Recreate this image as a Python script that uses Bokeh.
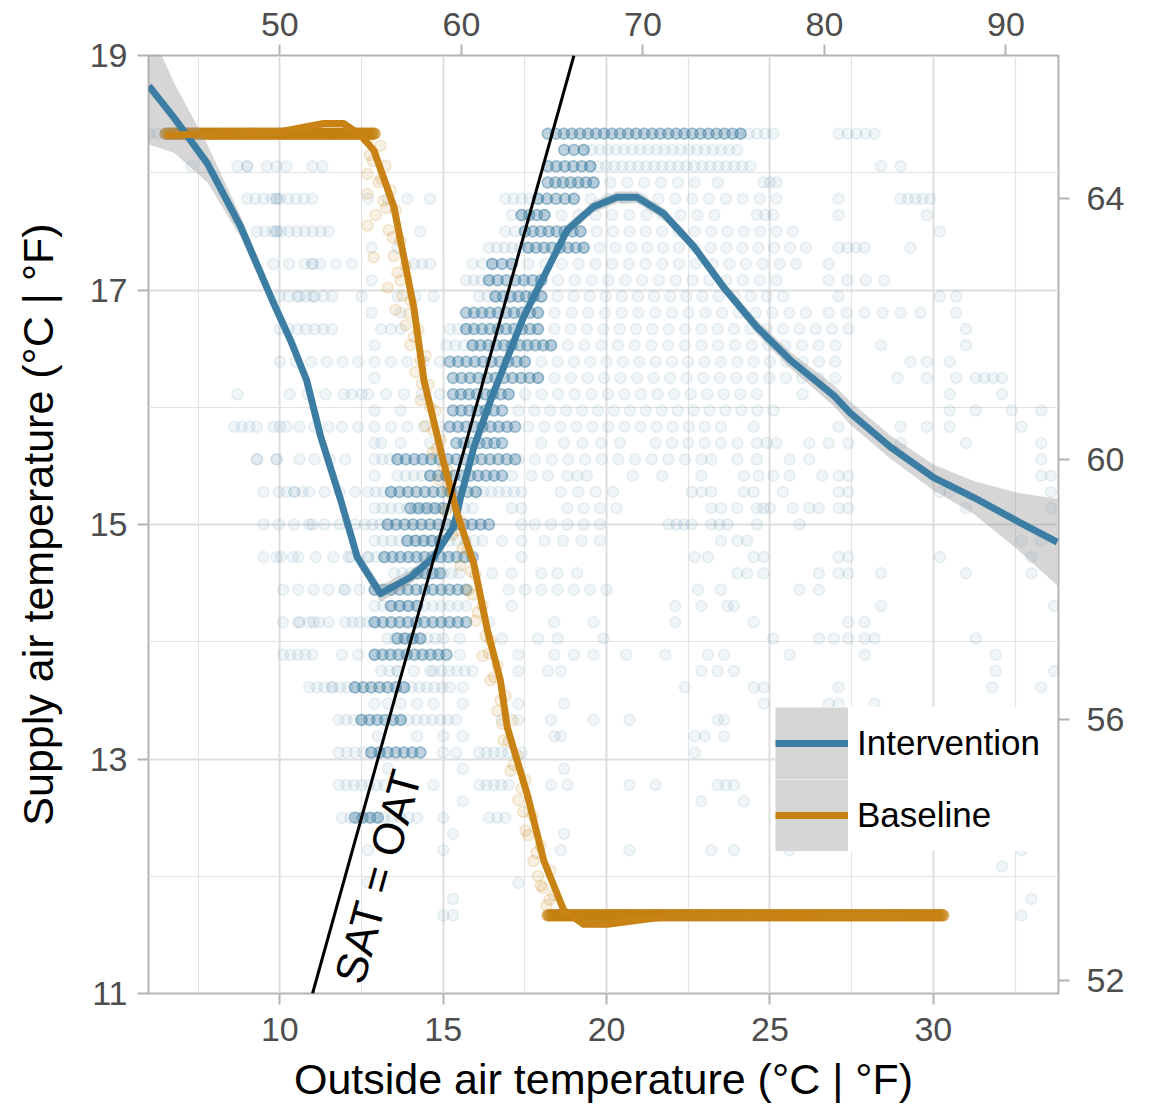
import numpy as np
from bokeh.plotting import figure
from bokeh.models import Range1d, LinearAxis, FixedTicker, Legend, LegendItem
from bokeh.core.properties import value
from bokeh.embed import file_html
from bokeh.resources import INLINE

# ---------------- data ----------------
# Intervention scatter: supply-air rows (deg F) and the outside-air
# temperatures (deg C) seen on each row.
#   "a-b" continuous run of points, "a=b" dense (dark) run,
#   "a~b" sparse run, single numbers are single points.
INT_ROW_F = [65.0, 64.75, 64.5, 64.25, 64.0, 63.75, 63.5, 63.25, 63.0, 62.75,
             62.5, 62.25, 62.0, 61.75, 61.5, 61.25, 61.0, 60.75, 60.5, 60.25,
             60.0, 59.75, 59.5, 59.25, 59.0, 58.75, 58.5, 58.25, 58.0, 57.75,
             57.5, 57.25, 57.0, 56.75, 56.5, 56.25, 56.0, 55.75, 55.5, 55.25,
             55.0, 54.75, 54.5, 54.25, 54.0, 53.75, 53.5, 53.25, 53.0]
INT_ROW_OAT = [
    "6.0-12.8, 18.2=24.1, 24.1-25.1, 27.1-28.2",
    "18.7=19.3, 19.3-24.0",
    "7.3, 8.7, 9.0, 9.0, 9.6, 9.9, 10.2, 11.0, 11.3, 18.2=19.5, 19.5-24.4, 28.4, 29.0",
    "18.2=19.6, 19.6~22.7, 23.4, 24.8-25.2",
    "9.0-11.0, 9.9, 9.9, 12.7~13.9, 14.6, 16.9-17.9, 17.9=19.0, 19.0~25.2, 27.1, 29.0-29.9",
    "17.1-17.4, 17.4=18.1, 18.1~23.3, 24.6-25.1, 27.1, 29.8",
    "9.3-11.5, 9.9, 9.9, 14.3, 16.9-17.5, 17.5=19.2, 19.2~25.7, 30.2",
    "12.8, 13.6, 16.4-17.6, 17.6=19.3, 19.3~26.1, 27.1-27.9, 29.3",
    "9.8~12.2, 11.0, 11.0, 14.1-14.6, 15.9-16.5, 16.5=17.1, 17.1~25.8, 26.8",
    "12.8, 15.7-16.4, 16.4=18.0, 18.0~25.2, 26.8~28.5",
    "10.0-11.6, 10.6, 11.0, 12.5, 13.6~14.7, 16.1-16.6, 16.6=18.0, 18.0~25.4, 27.1, 30.2, 30.7",
    "12.8, 13.7, 15.7=17.9, 17.9~26.1, 26.8~29.0, 29.6, 30.7",
    "10.0-11.6, 13.1-13.7, 15.2-15.7, 15.7=17.9, 17.9~27.4, 31.0",
    "12.9, 15.1-15.9, 15.9=18.3, 18.3~27.0, 28.4, 31.0",
    "10.0~12.4, 12.9~14.9, 15.2=17.5, 17.5~27.0, 29.3, 29.8, 30.5",
    "12.9, 15.3=17.9, 17.9~27.0, 28.9, 29.8, 30.7, 31.3-32.1",
    "8.7, 10.3~12.5, 12.2, 12.7~14.9, 15.3=17.0, 17.0~24.6, 26.0, 30.5, 32.1",
    "12.9, 13.7, 15.3=16.8, 17.3~25.1, 30.5, 31.3, 32.4, 33.3",
    "8.6-9.3, 9.8-10.2, 10.6~11.5, 11.9~14.9, 15.2=17.2, 17.6~23.5, 24.5, 27.1, 29.0, 29.8, 30.5, 32.7",
    "12.9, 13.1, 13.7, 14.6, 15.4=16.8, 18.0, 18.7~20.4, 21.5~23.5, 24.0, 24.6-25.2, 26.2~27.4, 29.0, 31.0, 33.3",
    "9.3, 9.3, 9.9, 9.9, 10.6~12.0, 12.9-13.6, 13.6=17.2, 17.3~22.4, 22.9, 23.2, 24.0, 24.6, 25.6, 26.2, 33.3",
    "12.9, 13.6-14.6, 14.6=16.8, 17.1, 17.7, 18.2, 18.8-19.4, 20.8, 21.7, 22.9, 24.2~25.1, 25.6, 26.6, 27.1-27.4, 33.3, 33.6",
    "9.5~12.3, 10.2-10.7, 12.7-13.4, 13.4=16.0, 16.0-17.4, 18.6~20.2, 22.6-23.2, 24.2-24.5, 25.4, 27.1-27.4, 30.2-30.5, 33.6",
    "12.9-15.9, 14.0=15.0, 17.1, 17.4, 18.8~20.3, 23.2-23.5, 24.0, 24.6-25.0, 25.7, 26.2-26.5, 27.1-27.4, 31.0, 33.6",
    "9.5~12.3, 11.0, 12.6-13.3, 13.3=16.4, 17.4, 17.8~19.8, 21.9-22.6, 23.2-23.7, 24.6, 25.9",
    "12.9-16.2, 13.9=14.9, 16.8, 17.4, 18.1~19.8, 23.5, 24.0-24.3, 32.7, 33.3",
    "9.5~12.7, 9.9, 10.4, 12.1, 12.7-13.2, 13.2=15.9, 17.4, 22.7, 23.1, 24.5-24.8, 27.1-27.4, 30.2, 33.0",
    "13.5-15.5, 14.2=14.9, 16.5, 17.1, 18.0, 18.5, 19.1, 24.0-24.3, 24.8, 26.5, 27.1-27.4, 28.4, 31.0, 33.0",
    "10.1~12.9, 12.0, 12.9=15.7, 17.0~20.0, 22.8-22.9, 23.5, 25.9, 26.5",
    "12.9-15.7, 13.4=14.2, 17.1, 22.1, 22.9, 23.7-23.9, 28.4, 33.7",
    "10.1~11.5, 10.6-11.2, 12.0-12.9, 12.9=15.7, 16.4, 18.4, 19.6, 22.1, 24.5, 27.4, 27.9",
    "13.3-15.0, 13.6=14.3, 15.5, 16.8, 17.9, 18.5, 19.9, 25.1, 26.5~27.4, 27.9-28.2, 31.3",
    "10.1-11.0, 11.9~12.9, 12.9=15.1, 15.5, 17.3, 18.4~19.6, 20.6, 21.8, 23.1, 23.6, 25.6, 27.9, 31.9",
    "13.1-13.6, 13.6~14.6, 14.7-15.9, 17.3, 18.2, 18.6, 22.9, 23.4, 23.9, 31.9, 33.7",
    "10.9-11.6, 11.6-12.3, 12.3=13.8, 13.8-15.2, 15.6, 22.4, 24.5-24.8, 27.1, 31.8, 33.3",
    "12.9, 13.3, 13.7, 14.2, 14.7, 15.6, 17.3, 18.7, 24.8, 26.8-27.1, 28.2",
    "11.8-12.5, 12.5=13.7, 13.7-15.4, 16.8, 17.3, 18.3, 19.6, 20.7, 23.4-23.6",
    "13.0, 14.2, 15.0, 15.6, 18.4, 18.6, 22.7-23.0, 23.6",
    "11.8-12.8, 12.8=14.3, 15.0, 15.4, 16.1-17.0, 17.4, 22.7",
    "13.3, 15.6, 18.7",
    "11.8-13.2, 14.7, 16.1-17.0, 18.3, 18.8, 20.7, 21.5, 23.4-23.9",
    "15.6, 22.9, 24.2",
    "11.9-14.2, 12.3=13.0, 15.0, 16.4-16.9",
    "15.3, 18.7",
    "12.7, 15.0, 18.6, 20.7, 23.2, 23.9, 25.6, 32.7",
    "32.1",
    "12.7, 17.3",
    "15.3, 33.0",
    "15.0-15.3, 32.7",
]

# Baseline scatter: two heavily populated rows plus the descending band
BASE_ROW_F = [65.0, 53.0]
BASE_ROW_OAT = ["6.5=12.9", "18.2=30.3"]
BASE_OAT = [12.68, 13.08, 12.84, 13.23, 12.68, 13.02, 13.39, 12.68, 13.17, 13.54,
            12.93, 12.68, 13.33, 13.69, 12.87, 13.48, 13.85, 13.30, 13.69, 14.00,
            13.54, 13.85, 14.24, 14.00, 14.46, 14.15, 14.55, 14.31, 14.76, 14.46,
            14.92, 14.67, 15.13, 14.86, 15.28, 15.07, 15.53, 15.28, 15.74, 15.53,
            15.99, 15.77, 16.20, 15.99, 16.45, 16.20, 16.66, 16.45, 16.91, 16.66,
            17.12, 16.85, 17.27, 17.06, 17.52, 17.30, 17.73, 17.52, 17.98, 17.76,
            18.28, 17.98, 18.38, 18.16,
            12.75, 13.10, 13.25, 13.45, 13.60, 13.75, 13.95, 14.10, 14.30, 14.35,
            14.60, 14.70, 14.80, 15.00, 15.15, 15.40, 15.45, 15.60, 15.85, 15.90,
            16.05, 16.30, 16.40, 16.55, 16.75, 16.80, 17.00, 17.15, 17.40, 17.45,
            17.60, 17.85, 17.90, 18.05, 18.25]
BASE_SAT = [18.28, 18.23, 18.10, 18.06, 17.99, 17.92, 17.85, 17.82, 17.76, 17.68,
            17.64, 17.55, 17.51, 17.42, 17.28, 17.29, 17.21, 17.02, 17.08, 16.91,
            16.83, 16.70, 16.66, 16.53, 16.44, 16.30, 16.19, 16.06, 15.97, 15.84,
            15.72, 15.61, 15.46, 15.38, 15.25, 15.12, 15.03, 14.91, 14.78, 14.65,
            14.57, 14.44, 14.31, 14.18, 14.01, 13.88, 13.80, 13.67, 13.54, 13.41,
            13.33, 13.16, 13.03, 12.90, 12.82, 12.65, 12.52, 12.39, 12.26, 12.13,
            12.05, 11.92, 11.84, 11.75,
            18.15, 17.95, 17.70, 17.45, 17.15, 16.95, 16.80, 16.60, 16.40, 16.20,
            16.00, 15.80, 15.65, 15.50, 15.30, 15.15, 14.95, 14.80, 14.60, 14.40,
            14.25, 14.05, 13.90, 13.70, 13.50, 13.30, 13.15, 12.95, 12.75, 12.55,
            12.35, 12.20, 12.00, 11.90, 11.80]

# Smoothed fits (deg C)
INT_FIT_X = [5.99, 6.76, 7.78, 8.80, 9.82, 10.33, 10.82, 11.25, 11.86, 12.37,
             13.08, 14.00, 14.70, 15.32, 15.53, 15.94, 16.45, 17.46, 18.79, 19.60,
             20.32, 20.94, 21.75, 22.67, 23.59, 24.61, 25.63, 26.95, 27.46, 28.69,
             30.01, 31.24, 32.56, 33.79]
INT_FIT_Y = [18.74, 18.47, 18.08, 17.54, 16.88, 16.57, 16.23, 15.75, 15.21, 14.72,
             14.41, 14.55, 14.72, 14.98, 15.23, 15.66, 16.06, 16.77, 17.51, 17.71,
             17.79, 17.79, 17.65, 17.37, 17.02, 16.68, 16.40, 16.10, 15.95, 15.66,
             15.40, 15.23, 15.03, 14.85]
INT_FIT_SE = [0.50, 0.30, 0.16, 0.09, 0.06, 0.05, 0.05, 0.05, 0.05, 0.06,
              0.07, 0.06, 0.05, 0.05, 0.05, 0.05, 0.05, 0.05, 0.05, 0.05,
              0.05, 0.05, 0.05, 0.05, 0.05, 0.06, 0.07, 0.09, 0.10, 0.10,
              0.11, 0.14, 0.24, 0.37]
BASE_FIT_X = [6.48, 10.02, 11.34, 11.95, 12.47, 12.88, 13.49, 14.10, 14.41, 15.02,
              15.43, 15.94, 16.35, 16.75, 16.96, 17.57, 18.08, 18.69, 19.30, 20.02,
              21.65, 30.22]
BASE_FIT_Y = [18.32, 18.35, 18.42, 18.42, 18.32, 18.19, 17.71, 16.85, 16.23, 15.52,
              15.09, 14.66, 14.10, 13.67, 13.27, 12.70, 12.13, 11.71, 11.59, 11.59,
              11.65, 11.665]
BASE_FIT_SE = [0.03] * len(BASE_FIT_X)

# SAT = OAT reference line
REF_X = [11.0, 19.0]
REF_Y = [11.0, 19.0]

X_TICKS = [10, 15, 20, 25, 30]
X_MINOR = [7.5, 12.5, 17.5, 22.5, 27.5, 32.5]
Y_TICKS = [11, 13, 15, 17, 19]
Y_MINOR = [12, 14, 16, 18]
XF_TICKS = [50, 60, 70, 80, 90]
YF_TICKS = [52, 56, 60, 64]

# ---------------- helpers ----------------
def f_to_c(f):
    return (f - 32.0) / 1.8


def expand(spec, dense_step=0.25, dense_mult=5):
    xs = []
    for tok in spec.split(","):
        tok = tok.strip()
        for sym, step, mult in (("=", dense_step, dense_mult), ("~", 0.5, 1), ("-", 0.25, 1)):
            if sym in tok:
                a, b = (float(v) for v in tok.split(sym))
                n = int(round((b - a) / step)) + 1
                pts = list(np.linspace(a, b, n)) if n > 1 else [a]
                xs += pts * mult
                break
        else:
            xs.append(float(tok))
    return xs


int_x, int_y = [], []
for f, spec in zip(INT_ROW_F, INT_ROW_OAT):
    xs = expand(spec)
    int_x += xs
    int_y += [f_to_c(f)] * len(xs)

base_x, base_y = list(BASE_OAT), list(BASE_SAT)
for f, spec in zip(BASE_ROW_F, BASE_ROW_OAT):
    xs = expand(spec, dense_step=0.05, dense_mult=4)
    base_x += xs
    base_y += [f_to_c(f)] * len(xs)

# ---------------- figure ----------------
BLUE = "#3C7DA3"
ORANGE = "#C88314"
FONT = "Liberation Sans"
X0, X1 = 5.98, 33.83
Y0, Y1 = 11.0, 19.0
FW, FH = 910, 938

p = figure(width=1150, height=1105, x_range=Range1d(X0, X1), y_range=Range1d(Y0, Y1),
           output_backend="svg", toolbar_location=None,
           min_border_left=148, min_border_right=92, min_border_top=55, min_border_bottom=112)
p.background_fill_color = "white"
p.border_fill_color = "white"
p.outline_line_color = "#B3B3B3"
p.outline_line_width = 2

p.extra_x_ranges = {"f": Range1d(X0 * 1.8 + 32, X1 * 1.8 + 32)}
p.extra_y_ranges = {"f": Range1d(Y0 * 1.8 + 32, Y1 * 1.8 + 32)}
p.add_layout(LinearAxis(x_range_name="f", ticker=FixedTicker(ticks=XF_TICKS)), "above")
p.add_layout(LinearAxis(y_range_name="f", ticker=FixedTicker(ticks=YF_TICKS)), "right")

p.below[0].ticker = FixedTicker(ticks=X_TICKS, minor_ticks=X_MINOR)
p.left[0].ticker = FixedTicker(ticks=Y_TICKS, minor_ticks=Y_MINOR)
p.below[0].axis_label = "Outside air temperature (°C | °F)"
p.left[0].axis_label = "Supply air temperature (°C | °F)"

for ax in p.below + p.left + p.above + p.right:
    ax.axis_line_color = None
    ax.major_tick_out = 11
    ax.major_tick_in = 0
    ax.major_tick_line_color = "#B3B3B3"
    ax.major_tick_line_width = 2
    ax.minor_tick_line_color = None
    ax.major_label_text_font = FONT
    ax.major_label_text_font_size = "34px"
    ax.major_label_text_color = "#4D4D4D"
    ax.axis_label_text_font = FONT
    ax.axis_label_text_font_size = "43px"
    ax.axis_label_text_font_style = "normal"
    ax.axis_label_text_color = "black"

p.below[0].major_label_standoff = 13
p.below[0].axis_label_standoff = 11
p.left[0].major_label_standoff = 10
p.left[0].axis_label_standoff = 25
p.above[0].major_label_standoff = 9
p.right[0].major_label_standoff = 17

p.xgrid.ticker = FixedTicker(ticks=X_TICKS, minor_ticks=X_MINOR)
p.ygrid.ticker = FixedTicker(ticks=Y_TICKS, minor_ticks=Y_MINOR)
for g in (p.xgrid[0], p.ygrid[0]):
    g.grid_line_color = "#DEDEDE"
    g.grid_line_width = 2
    g.minor_grid_line_color = "#E3E3E3"
    g.minor_grid_line_width = 1.2

# points
p.scatter(int_x, int_y, size=11, fill_color=BLUE, fill_alpha=0.08,
          line_color=BLUE, line_alpha=0.11, line_width=1.5)
p.scatter(base_x, base_y, size=11, fill_color=ORANGE, fill_alpha=0.12,
          line_color=ORANGE, line_alpha=0.18, line_width=1.5)

# confidence bands
ix = np.array(INT_FIT_X); iy = np.array(INT_FIT_Y); ise = np.array(INT_FIT_SE)
bx = np.array(BASE_FIT_X); by = np.array(BASE_FIT_Y); bse = np.array(BASE_FIT_SE)
p.varea(x=ix, y1=iy - ise, y2=iy + ise, fill_color="#999999", fill_alpha=0.4)
p.varea(x=bx, y1=by - bse, y2=by + bse, fill_color="#999999", fill_alpha=0.4)

# fitted lines
line_i = p.line(ix, iy, line_color=BLUE, line_width=7, line_join="round")
line_b = p.line(bx, by, line_color=ORANGE, line_width=7, line_join="round")

# SAT = OAT
p.line(REF_X, REF_Y, line_color="black", line_width=3)
ang = float(np.arctan((FH / (Y1 - Y0)) / (FW / (X1 - X0))))
p.text(x=[13.0], y=[12.0], text=["SAT = OAT"], angle=ang,
       text_font=value(FONT), text_font_size="44px", text_color="black",
       text_align="center", text_baseline="middle")

# legend key background (grey, like the ribbon fill in the keys); no visible data
key_bg = p.line(x=[np.nan], y=[np.nan], line_color="#D6D6D6", line_width=72, line_cap="butt")

legend = Legend(items=[LegendItem(label="Intervention", renderers=[key_bg, line_i]),
                       LegendItem(label="Baseline", renderers=[key_bg, line_b])],
                location=(627, 142), glyph_width=73, glyph_height=72,
                label_height=72, label_width=200, label_standoff=9,
                spacing=0, padding=0, margin=0, border_line_color=None,
                background_fill_color="white", background_fill_alpha=1.0,
                label_text_font=FONT, label_text_font_size="35px",
                label_text_color="black", label_text_baseline="middle")
p.add_layout(legend)

open("out.html", "w").write(file_html(p, INLINE))
